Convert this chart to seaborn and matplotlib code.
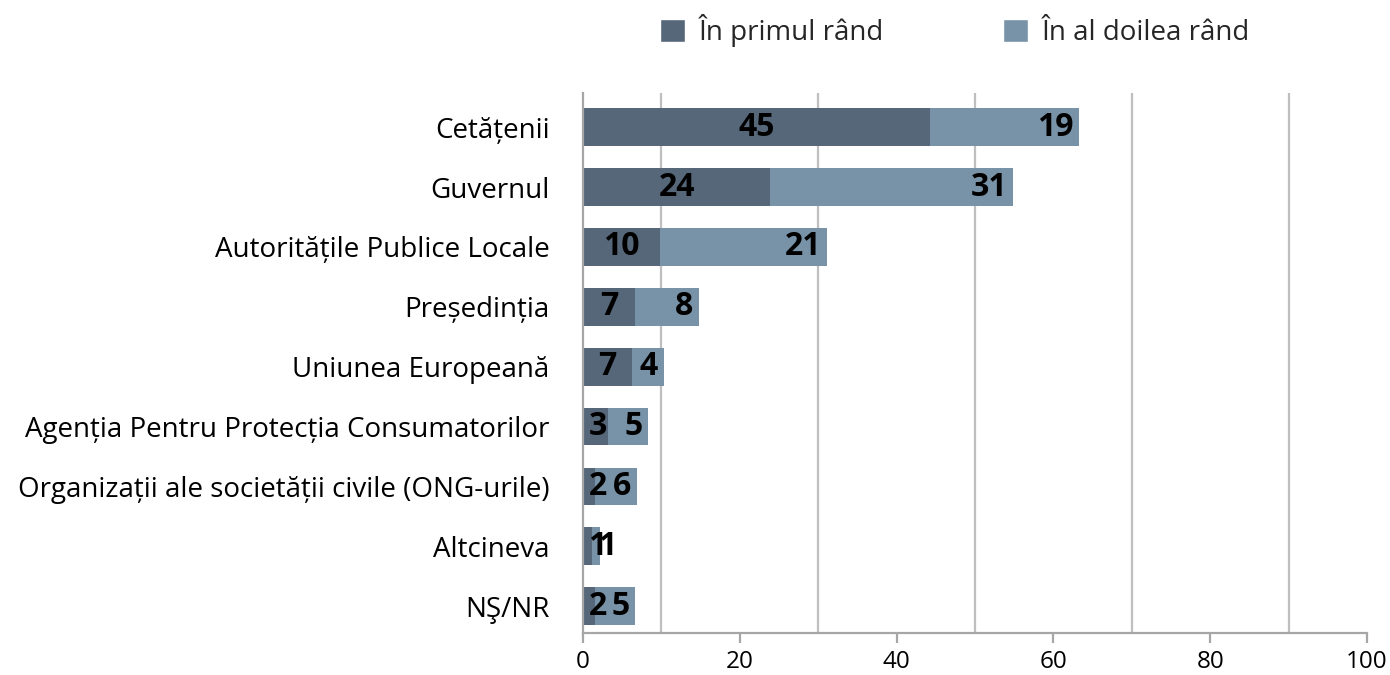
import matplotlib
matplotlib.use("Agg")
import matplotlib.pyplot as plt
import seaborn as sns
import pandas as pd
from matplotlib.patches import Patch

categories = ["Cetățenii", "Guvernul", "Autoritățile Publice Locale", "Președinția",
              "Uniunea Europeană", "Agenția Pentru Protecția Consumatorilor",
              "Organizații ale societății civile (ONG-urile)", "Altcineva", "NŞ/NR"]
primul = [44.3, 23.9, 9.8, 6.6, 6.2, 3.2, 1.5, 1.1, 1.5]
doilea = [19.0, 30.9, 21.3, 8.2, 4.1, 5.1, 5.4, 1.1, 5.1]
primul_labels = ["45", "24", "10", "7", "7", "3", "2", "1", "2"]
doilea_labels = ["19", "31", "21", "8", "4", "5", "6", "1", "5"]
series_names = ["În primul rând", "În al doilea rând"]

dark = "#56677A"
light = "#7892A7"

sns.set_theme(style="white")
plt.rcParams['font.family'] = ['Open Sans', 'DejaVu Sans']

df = pd.DataFrame({"cat": categories, "p": primul, "d": doilea})
df["total"] = df["p"] + df["d"]

fig = plt.figure(figsize=(13.9, 6.75), dpi=100)
ax = fig.add_axes([0.4194, 0.0622, 0.5641, 0.7998])

sns.barplot(data=df, x="total", y="cat", color=light, width=0.63, orient="h",
            ax=ax, saturation=1, linewidth=0, edgecolor="none")
sns.barplot(data=df, x="p", y="cat", color=dark, width=0.63, orient="h",
            ax=ax, saturation=1, linewidth=0, edgecolor="none")

ax.set_xlim(0, 100)
ax.set_ylim(8.45, -0.57)
ax.set_xticks([0, 20, 40, 60, 80, 100])
for g in [10, 30, 50, 70, 90]:
    ax.axvline(g, color="#BFBFBF", lw=1.6, zorder=0)
ax.set_axisbelow(True)
ax.set_xlabel("")
ax.set_ylabel("")

for s in ["top", "right"]:
    ax.spines[s].set_visible(False)
for s in ["left", "bottom"]:
    ax.spines[s].set_visible(True)
    ax.spines[s].set_color("#A6A6A6")
    ax.spines[s].set_linewidth(1.6)

ax.tick_params(axis="x", length=7, width=1.6, color="#A6A6A6", labelsize=17.5,
               pad=5, labelcolor="black", bottom=True)
ax.tick_params(axis="y", length=0, labelsize=20, pad=24, labelcolor="black")

for i, (p, d) in enumerate(zip(primul, doilea)):
    x1 = max(p / 2, 1.85)
    ax.text(x1, i, primul_labels[i], ha="center", va="center",
            fontsize=23, fontweight="bold", color="black")
    x2 = max(p + d - 0.7, x1 + 2.4)
    ax.text(x2, i, doilea_labels[i], ha="right", va="center",
            fontsize=23, fontweight="bold", color="black")

handles = [Patch(facecolor=dark, label=series_names[0]),
           Patch(facecolor=light, label=series_names[1])]
fig.legend(handles=handles, loc="center", bbox_to_anchor=(0.687, 0.955),
           ncol=2, frameon=False, fontsize=20, handlelength=0.9,
           handleheight=0.9, columnspacing=4.3, handletextpad=0.5)

fig.savefig("out.png", dpi=100)
